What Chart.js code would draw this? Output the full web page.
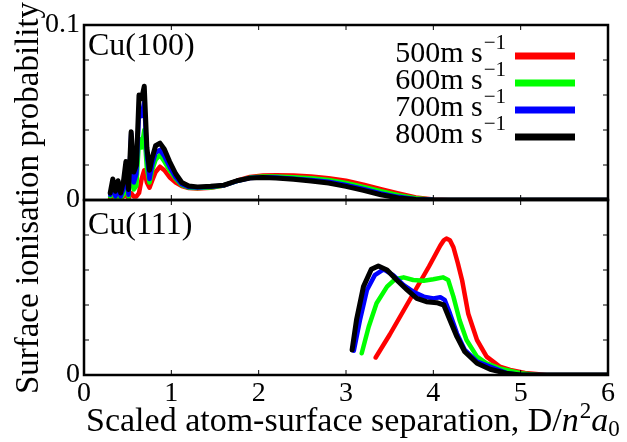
<!DOCTYPE html>
<html>
<head>
<meta charset="utf-8">
<script src="https://cdn.jsdelivr.net/npm/chart.js@4.4.0/dist/chart.umd.min.js"></script>
<style>
  body { margin: 0; background: #fff; }
  #wrap { width: 627px; height: 442px; position: relative; }
</style>
</head>
<body>
<div id="wrap"><canvas id="chart"></canvas></div>
<script>
// Cu(100) panel - shared x grid
const xTop = [0.30, 0.33, 0.36, 0.39, 0.42, 0.45, 0.48, 0.51, 0.54, 0.57, 0.60, 0.63, 0.66, 0.69, 0.72, 0.75, 0.78, 0.82, 0.87, 0.92, 0.98, 1.05, 1.12, 1.2, 1.3, 1.45, 1.6, 1.75, 1.9, 2.05, 2.2, 2.4, 2.6, 2.8, 3.0, 3.2, 3.4, 3.6, 3.8, 4.0, 4.2, 4.5, 5.0, 6.0];
const top500 = [0.001, 0.002, 0.001, 0.002, 0.001, 0.002, 0.003, 0.001, 0.004, 0.002, 0.002, 0.004, 0.012, 0.017, 0.010, 0.007, 0.011, 0.016, 0.019, 0.017, 0.013, 0.010, 0.008, 0.0068, 0.0065, 0.007, 0.0082, 0.011, 0.0132, 0.014, 0.0142, 0.014, 0.0135, 0.0125, 0.011, 0.0088, 0.0062, 0.0038, 0.0015, 0.0003, 0, 0, 0, 0];
const top600 = [0.002, 0.005, 0.001, 0.005, 0.001, 0.003, 0.010, 0.002, 0.025, 0.006, 0.008, 0.035, 0.030, 0.040, 0.018, 0.010, 0.017, 0.023, 0.0257, 0.022, 0.017, 0.012, 0.0085, 0.007, 0.0068, 0.0072, 0.0083, 0.0108, 0.0128, 0.0135, 0.0135, 0.013, 0.0124, 0.0114, 0.0098, 0.0075, 0.005, 0.0028, 0.001, 0.0002, 0, 0, 0, 0];
const top700 = [0.003, 0.008, 0.002, 0.008, 0.002, 0.006, 0.018, 0.003, 0.038, 0.010, 0.015, 0.050, 0.048, 0.056, 0.026, 0.012, 0.020, 0.027, 0.0286, 0.025, 0.019, 0.013, 0.009, 0.0074, 0.0072, 0.0075, 0.0084, 0.0108, 0.0126, 0.013, 0.0128, 0.0122, 0.0115, 0.0104, 0.0086, 0.0063, 0.0038, 0.0018, 0.0005, 0.0001, 0, 0, 0, 0];
const top800 = [0.004, 0.012, 0.005, 0.011, 0.004, 0.010, 0.022, 0.006, 0.039, 0.016, 0.020, 0.060, 0.058, 0.065, 0.030, 0.017, 0.024, 0.031, 0.0325, 0.029, 0.022, 0.015, 0.010, 0.008, 0.0075, 0.0078, 0.0085, 0.011, 0.0125, 0.0128, 0.0125, 0.0118, 0.0108, 0.0097, 0.0078, 0.0055, 0.003, 0.0012, 0.0003, 0, 0, 0, 0, 0];

// Cu(111) panel - each curve has its own x values
const xBot500 = [3.34, 3.50, 3.65, 3.80, 3.95, 4.08, 4.12, 4.15, 4.19, 4.23, 4.28, 4.33, 4.40, 4.50, 4.61, 4.76, 4.88, 5.05, 5.3, 6.0];
const bot500 = [0.010, 0.023, 0.036, 0.049, 0.062, 0.074, 0.077, 0.078, 0.077, 0.073, 0.064, 0.054, 0.035, 0.020, 0.0105, 0.0048, 0.0029, 0.0012, 0, 0];
const xBot600 = [3.18, 3.26, 3.35, 3.47, 3.56, 3.66, 3.77, 3.89, 4.00, 4.11, 4.17, 4.23, 4.30, 4.38, 4.50, 4.61, 4.76, 5.0, 5.2, 6.0];
const bot600 = [0.0124, 0.0276, 0.041, 0.0505, 0.0547, 0.0558, 0.0543, 0.0539, 0.0547, 0.0558, 0.0543, 0.0448, 0.0314, 0.020, 0.0105, 0.0067, 0.0038, 0.001, 0, 0];
const xBot700 = [3.09, 3.16, 3.24, 3.33, 3.43, 3.54, 3.66, 3.77, 3.89, 4.00, 4.08, 4.13, 4.19, 4.27, 4.36, 4.50, 4.65, 4.85, 5.0, 6.0];
const bot700 = [0.0139, 0.0314, 0.0486, 0.0571, 0.0604, 0.0571, 0.0514, 0.0476, 0.0448, 0.0438, 0.0444, 0.0429, 0.0352, 0.0238, 0.0143, 0.0076, 0.0048, 0.001, 0, 0];
const xBot800 = [3.07, 3.12, 3.20, 3.29, 3.37, 3.47, 3.58, 3.70, 3.81, 3.92, 4.04, 4.12, 4.19, 4.27, 4.36, 4.50, 4.65, 4.85, 5.0, 6.0];
const bot800 = [0.0143, 0.0314, 0.0505, 0.0604, 0.0623, 0.060, 0.0543, 0.0486, 0.0438, 0.0419, 0.0413, 0.040, 0.0314, 0.0219, 0.0133, 0.0067, 0.0033, 0.0008, 0, 0];

const xTicks = [0, 1, 2, 3, 4, 5, 6];
const yTicks = [0, 0.02, 0.04, 0.06, 0.08, 0.1];
const speeds = ['500', '600', '700', '800'];
const colours = ['#ff0000', '#00ff00', '#0000ff', '#000000'];

const FONT = "'Liberation Serif', 'DejaVu Serif', serif";

function pts(xs, ys) {
    return xs.map((x, i) => ({ x: x, y: ys[i] }));
}

function line(label, data, axis, i) {
    return {
        label: label,
        data: data,
        yAxisID: axis,
        borderColor: colours[i],
        borderWidth: i == 3 ? 5 : 4.5,
        borderJoinStyle: 'round',
        borderCapStyle: 'round',
        pointRadius: 0,
        tension: 0,
        fill: false,
        order: 3 - i
    };
}

let datasets = [
    line('top500', pts(xTop, top500), 'yTop', 0),
    line('top600', pts(xTop, top600), 'yTop', 1),
    line('top700', pts(xTop, top700), 'yTop', 2),
    line('top800', pts(xTop, top800), 'yTop', 3),
    line('bot500', pts(xBot500, bot500), 'yBot', 0),
    line('bot600', pts(xBot600, bot600), 'yBot', 1),
    line('bot700', pts(xBot700, bot700), 'yBot', 2),
    line('bot800', pts(xBot800, bot800), 'yBot', 3)
];

// ticks pointing inwards, panel frames, labels, legend
const decorations = {
    id: 'decorations',
    afterDraw(chart) {
        const ctx = chart.ctx;
        const x = chart.scales.x;
        const panels = [chart.scales.yTop, chart.scales.yBot];
        ctx.save();
        ctx.strokeStyle = '#000';

        panels.forEach(ys => {
            ctx.lineWidth = 1;
            ctx.beginPath();
            xTicks.slice(1, -1).forEach(v => {
                let px = x.getPixelForValue(v);
                ctx.moveTo(px, ys.top); ctx.lineTo(px, ys.top + 5);
                ctx.moveTo(px, ys.bottom); ctx.lineTo(px, ys.bottom - 5);
            });
            yTicks.slice(1, -1).forEach(v => {
                let py = ys.getPixelForValue(v);
                ctx.moveTo(x.left, py); ctx.lineTo(x.left + 5, py);
                ctx.moveTo(x.right, py); ctx.lineTo(x.right - 5, py);
            });
            ctx.stroke();
            ctx.lineWidth = 2.5;
            ctx.strokeRect(x.left, ys.top, x.right - x.left, ys.bottom - ys.top);
        });

        ctx.fillStyle = '#000';
        ctx.textAlign = 'left';
        ctx.textBaseline = 'alphabetic';
        ctx.font = '32px ' + FONT;
        ctx.fillText('Cu(100)', x.left + 4, panels[0].top + 30);
        ctx.fillText('Cu(111)', x.left + 4, panels[1].top + 34);

        // legend
        speeds.forEach((s, i) => {
            let ly = 56 + i * 27;
            let main = s + 'm s';
            ctx.font = '30px ' + FONT;
            let wMain = ctx.measureText(main).width;
            ctx.font = '21px ' + FONT;
            let wSup = ctx.measureText('\u22121').width;
            let start = 505 - wMain - wSup;
            ctx.font = '30px ' + FONT;
            ctx.fillText(main, start, ly + 6);
            ctx.font = '21px ' + FONT;
            ctx.fillText('\u22121', start + wMain + 1, ly - 7);
            ctx.strokeStyle = colours[i];
            ctx.lineWidth = 7;
            ctx.beginPath();
            ctx.moveTo(515, ly);
            ctx.lineTo(575, ly);
            ctx.stroke();
        });

        // axis titles
        ctx.font = '33px ' + FONT;
        ctx.save();
        ctx.translate(38, 198);
        ctx.rotate(-Math.PI / 2);
        ctx.textAlign = 'center';
        ctx.fillText('Surface ionisation probability', 0, 0);
        ctx.restore();

        let parts = [
            ['Scaled atom-surface separation, D/', '34px ' + FONT, 0],
            ['n', 'italic 34px ' + FONT, 0],
            ['2', '23px ' + FONT, -13],
            ['a', 'italic 34px ' + FONT, 0],
            ['0', '23px ' + FONT, 5]
        ];
        let tx = 86;
        parts.forEach(p => {
            ctx.font = p[1];
            ctx.fillText(p[0], tx, 431 + p[2]);
            tx += ctx.measureText(p[0]).width + (p[0] == 'n' ? 1 : 0);
        });
        ctx.restore();
    }
};

function yLabel(top) {
    return function(v) {
        if (Math.abs(v) < 1e-9) return '0';
        if (top && Math.abs(v - 0.1) < 1e-9) return '0.1';
        return '';
    };
}

const tickFont = { family: FONT, size: 28 };

new Chart(document.getElementById('chart'), {
    type: 'line',
    data: { datasets: datasets },
    options: {
        responsive: true,
        maintainAspectRatio: false,
        animation: false,
        layout: { padding: { top: 25, right: 19, left: 0, bottom: 0 } },
        plugins: { legend: { display: false }, tooltip: { enabled: false } },
        scales: {
            x: {
                type: 'linear', min: 0, max: 6,
                ticks: { stepSize: 1, font: tickFont, color: '#000', padding: 2, maxRotation: 0 },
                grid: { display: false, drawTicks: false },
                border: { display: false },
                afterFit: s => { s.height = 67; }
            },
            yBot: {
                type: 'linear', min: 0, max: 0.1, position: 'left', stack: 'panels', stackWeight: 1,
                ticks: { stepSize: 0.02, font: tickFont, color: '#000', padding: 4, callback: yLabel(false), autoSkip: false },
                grid: { display: false, drawTicks: false },
                border: { display: false },
                afterFit: s => { s.width = 84; }
            },
            yTop: {
                type: 'linear', min: 0, max: 0.1, position: 'left', stack: 'panels', stackWeight: 1,
                ticks: { stepSize: 0.02, font: tickFont, color: '#000', padding: 4, callback: yLabel(true), autoSkip: false },
                grid: { display: false, drawTicks: false },
                border: { display: false },
                afterFit: s => { s.width = 84; }
            }
        }
    },
    plugins: [decorations]
});
</script>
</body>
</html>
